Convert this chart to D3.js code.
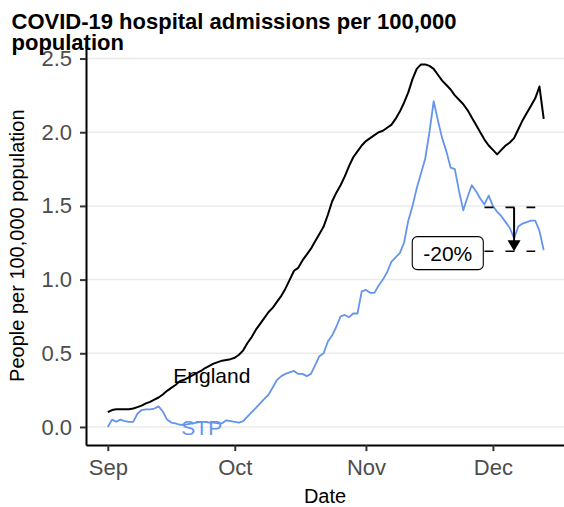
<!DOCTYPE html>
<html lang="en">
<head>
<meta charset="UTF-8">
<title>COVID-19 hospital admissions</title>
<script src="https://cdn.jsdelivr.net/npm/d3@7"></script>
<style>
  body { margin: 0; background: #fff; }
  svg { display: block; font-family: "Liberation Sans", Arial, sans-serif; }
</style>
</head>
<body>
<div id="chart"></div>
<script>
// daily values, starting 1 Sep 2020
var startDate = "2020-09-01";
var england = [
  0.10, 0.115, 0.12, 0.12, 0.12, 0.12, 0.125, 0.135, 0.145, 0.16,
  0.17, 0.185, 0.20, 0.22, 0.245, 0.265, 0.285, 0.31, 0.32, 0.335,
  0.35, 0.365, 0.38, 0.40, 0.415, 0.43, 0.44, 0.45, 0.455, 0.46,
  0.47, 0.49, 0.52, 0.57, 0.61, 0.66, 0.70, 0.74, 0.78, 0.81,
  0.85, 0.89, 0.94, 1.00, 1.06, 1.08, 1.13, 1.17, 1.21, 1.26,
  1.31, 1.36, 1.44, 1.53, 1.59, 1.64, 1.70, 1.77, 1.83, 1.87,
  1.91, 1.94, 1.96, 1.98, 2.00, 2.01, 2.03, 2.05, 2.09, 2.14,
  2.20, 2.27, 2.36, 2.43, 2.46, 2.46, 2.45, 2.43, 2.39, 2.35,
  2.32, 2.29, 2.25, 2.22, 2.19, 2.15, 2.10, 2.05, 2.00, 1.95,
  1.91, 1.88, 1.85, 1.88, 1.91, 1.93, 1.96, 2.02, 2.08, 2.13,
  2.18, 2.23, 2.31, 2.09
];
var stp = [
  0.00, 0.05, 0.035, 0.05, 0.04, 0.035, 0.035, 0.09, 0.115, 0.12,
  0.12, 0.125, 0.14, 0.105, 0.05, 0.03, 0.025, 0.015, 0.015, 0.02,
  0.025, 0.03, 0.035, 0.035, 0.03, 0.03, 0.025, 0.025, 0.045, 0.04,
  0.035, 0.03, 0.04, 0.07, 0.10, 0.13, 0.16, 0.19, 0.22, 0.27,
  0.32, 0.345, 0.36, 0.37, 0.38, 0.36, 0.36, 0.345, 0.36, 0.42,
  0.48, 0.50, 0.58, 0.62, 0.68, 0.75, 0.76, 0.745, 0.77, 0.77,
  0.92, 0.93, 0.91, 0.91, 0.96, 1.00, 1.05, 1.12, 1.15, 1.18,
  1.25, 1.40, 1.50, 1.62, 1.72, 1.82, 2.00, 2.21, 2.08, 1.96,
  1.87, 1.76, 1.75, 1.60, 1.47, 1.56, 1.64, 1.60, 1.55, 1.51,
  1.57, 1.50, 1.46, 1.43, 1.39, 1.35, 1.28, 1.36, 1.38, 1.39,
  1.40, 1.40, 1.33, 1.20
];
var yTicks = [0, 0.5, 1.0, 1.5, 2.0, 2.5];
var xTicks = ["2020-09-01", "2020-10-01", "2020-11-01", "2020-12-01"];

// annotation: fall from the recent level to the latest value
var annoFrom = "2020-11-29", annoTo = "2020-12-11", annoArrow = "2020-12-06";
var annoTop = 1.49, annoChange = -0.20;
var annoLabelAt = ["2020-11-20 08:00", 1.18];
var seriesLabels = [
  { name: "England", date: "2020-09-25 14:00", value: 0.35 },
  { name: "STP", date: "2020-09-23 05:00", value: 0.0 }
];

var width = 564, height = 507;
var margin = { left: 86, right: -1.5, top: 46.3, bottom: 61.9 };
var parse = d3.utcParse("%Y-%m-%d");
var parseT = d3.utcParse("%Y-%m-%d %H:%M");
var day = 864e5;

var dates = england.map((d, i) => new Date(+parse(startDate) + i * day));
var rows = dates.map((d, i) => ({ date: d, england: england[i], stp: stp[i] }));

// ggplot-style 5% expansion on both scales
var xExt = d3.extent(dates), xPad = (xExt[1] - xExt[0]) * 0.05;
var x = d3.scaleUtc()
  .domain([new Date(+xExt[0] - xPad), new Date(+xExt[1] + xPad)])
  .range([margin.left, width - margin.right]);
var yMax = d3.max(england), yPad = yMax * 0.05;
var y = d3.scaleLinear()
  .domain([-yPad, yMax + yPad])
  .range([height - margin.bottom, margin.top]);

var svg = d3.select("#chart").append("svg")
  .attr("width", width).attr("height", height);

// grid
svg.append("g")
  .selectAll("line")
  .data(yTicks)
  .join("line")
    .attr("x1", margin.left).attr("x2", width)
    .attr("y1", d => y(d)).attr("y2", d => y(d))
    .attr("stroke", "#ebebeb").attr("stroke-width", 1.5);

// lines
var line = key => d3.line().x(d => x(d.date)).y(d => y(d[key]));
svg.append("path").datum(rows)
  .attr("fill", "none").attr("stroke", "#000").attr("stroke-width", 2)
  .attr("stroke-linejoin", "round")
  .attr("d", line("england"));
svg.append("path").datum(rows)
  .attr("fill", "none").attr("stroke", "#6495ed").attr("stroke-width", 1.8)
  .attr("stroke-linejoin", "round")
  .attr("d", line("stp"));

// series labels
svg.append("g")
  .selectAll("text")
  .data(seriesLabels)
  .join("text")
    .attr("x", d => x(parseT(d.date)))
    .attr("y", d => y(d.value))
    .attr("dy", "0.36em")
    .attr("text-anchor", "middle")
    .attr("font-size", 21)
    .attr("fill", d => d.name == "STP" ? "#6495ed" : "#000")
    .text(d => d.name);

// annotation
var annoBottom = annoTop * (1 + annoChange);
var ann = svg.append("g");
[annoTop, annoBottom].forEach(v => {
  ann.append("line")
    .attr("x1", x(parse(annoFrom))).attr("x2", x(parse(annoTo)))
    .attr("y1", y(v)).attr("y2", y(v))
    .attr("stroke", "#000").attr("stroke-width", 1.6)
    .attr("stroke-dasharray", "9,12");
});
var ax = x(parse(annoArrow)), yt = y(annoTop), yb = y(annoBottom);
ann.append("line")
  .attr("x1", ax).attr("x2", ax).attr("y1", yt).attr("y2", yb - 8)
  .attr("stroke", "#000").attr("stroke-width", 2);
ann.append("path")
  .attr("d", `M${ax - 6.5},${yb - 11}L${ax + 6.5},${yb - 11}L${ax},${yb}Z`)
  .attr("fill", "#000");

var lab = ann.append("g")
  .attr("transform", `translate(${x(parseT(annoLabelAt[0]))},${y(annoLabelAt[1])})`);
var labRect = lab.append("rect");
var labText = lab.append("text")
  .attr("text-anchor", "middle").attr("dy", "0.36em")
  .attr("font-size", 21)
  .text(d3.format(".0%")(annoChange).replace("−", "-"));
var bb = labText.node().getBBox();
labRect
  .attr("x", bb.x - 11).attr("y", bb.y - 5)
  .attr("width", bb.width + 22).attr("height", bb.height + 10)
  .attr("rx", 5).attr("fill", "#fff")
  .attr("stroke", "#000").attr("stroke-width", 1.1);

// axes
var yAxis = svg.append("g")
  .attr("transform", `translate(${margin.left},0)`)
  .call(d3.axisLeft(y).tickValues(yTicks).tickFormat(d3.format(".1f"))
    .tickSize(6).tickSizeOuter(0).tickPadding(8));
var xAxis = svg.append("g")
  .attr("transform", `translate(0,${height - margin.bottom})`)
  .call(d3.axisBottom(x).tickValues(xTicks.map(parse))
    .tickFormat(d3.utcFormat("%b")).tickSize(6).tickSizeOuter(0).tickPadding(8));
[yAxis, xAxis].forEach(a => {
  a.select(".domain").attr("stroke", "#000").attr("stroke-width", 2);
  a.selectAll(".tick line").attr("stroke", "#333").attr("stroke-width", 2);
  a.selectAll(".tick text").attr("fill", "#4d4d4d")
    .attr("font-size", 22).attr("font-family", null);
});

// titles
svg.append("text")
  .attr("x", x.range()[0] + (width - x.range()[0]) / 2)
  .attr("y", 503)
  .attr("text-anchor", "middle").attr("font-size", 20)
  .text("Date");
svg.append("text")
  .attr("transform", `translate(24,${(y.range()[0] + y.range()[1]) / 2}) rotate(-90)`)
  .attr("text-anchor", "middle").attr("font-size", 20)
  .text("People per 100,000 population");

var title = svg.append("text")
  .attr("font-size", 22).attr("font-weight", "bold");
title.append("tspan").attr("x", 11.5).attr("y", 28.5)
  .text("COVID-19 hospital admissions per 100,000");
title.append("tspan").attr("x", 11.5).attr("y", 50)
  .text("population");
</script>
</body>
</html>
